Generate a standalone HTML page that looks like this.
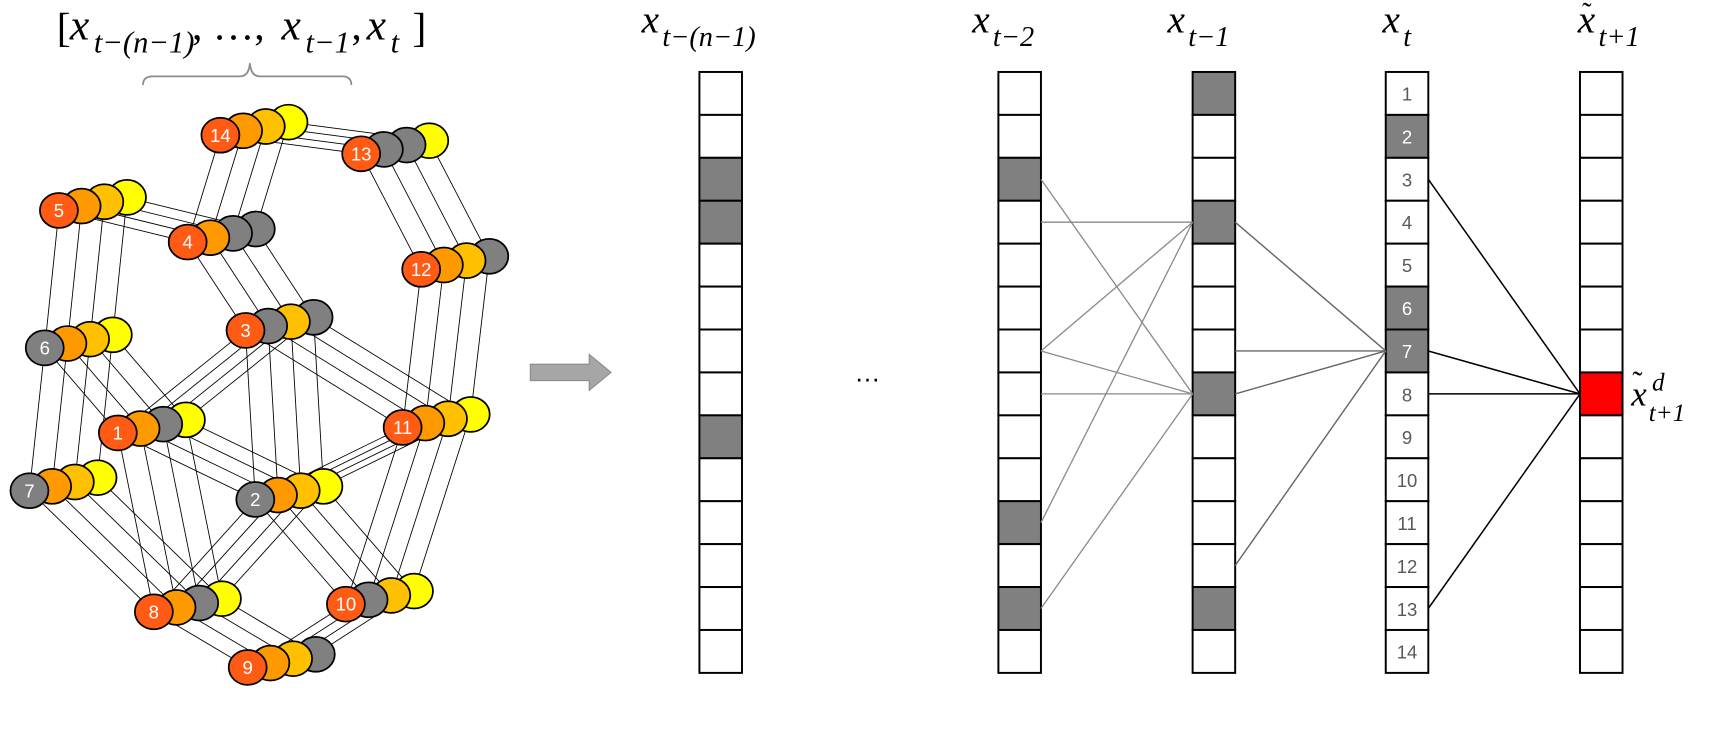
<!DOCTYPE html>
<html><head><meta charset="utf-8"><style>
html,body{margin:0;padding:0;background:#fff;}
svg{display:block;}
.m{font-family:"Liberation Serif",serif;font-style:italic;fill:#000;}
.n{font-family:"Liberation Sans",sans-serif;fill:#fff;font-size:17px;text-anchor:middle;}
.c{font-family:"Liberation Sans",sans-serif;fill:#595959;font-size:17px;text-anchor:middle;}
</style></head><body>
<svg id="s" width="1712" height="735" viewBox="0 0 1569 674" preserveAspectRatio="none" xmlns="http://www.w3.org/2000/svg">
<g id="edges" stroke="#000" stroke-width="0.8"></g>
<g id="nodes" stroke="#000" stroke-width="1.6"></g>
<g id="cols"></g>
<g id="conn" fill="none"></g>

<g class="n">
<text x="202" y="130">14</text>
<text x="331" y="147">13</text>
<text x="54" y="199">5</text>
<text x="172" y="228">4</text>
<text x="386" y="253">12</text>
<text x="225" y="309">3</text>
<text x="41" y="325">6</text>
<text x="108" y="403">1</text>
<text x="369" y="398">11</text>
<text x="27" y="456">7</text>
<text x="234" y="464">2</text>
<text x="141" y="567">8</text>
<text x="317" y="560">10</text>
<text x="227" y="618">9</text>
</g>

<text class="m" x="52" y="38" font-size="38" style="font-style:normal">[</text>
<text class="m" x="64" y="36" font-size="40">x</text>
<text class="m" x="86" y="48" font-size="28">t−(n−1)</text>
<text class="m" x="176" y="36" font-size="38" style="font-style:normal">, …, </text>
<text class="m" x="258" y="36" font-size="40">x</text>
<text class="m" x="280" y="48" font-size="28">t−1</text>
<text class="m" x="322" y="36" font-size="38" style="font-style:normal">,</text>
<text class="m" x="336" y="36" font-size="40">x</text>
<text class="m" x="358" y="48" font-size="28">t</text>
<text class="m" x="378" y="38" font-size="38" style="font-style:normal">]</text>
<path d="M131 78 Q131 70 140 70 L220 70 Q228 70 229 58 Q230 70 238 70 L314 70 Q322 70 322 78" fill="none" stroke="#8c8c8c" stroke-width="1.6"/>

<polygon points="486,334 540,334 540,325 560,341.5 540,358 540,349 486,349" fill="#a6a6a6" stroke="#8c8c8c" stroke-width="1"/>
<text x="783" y="350" font-family="Liberation Sans,sans-serif" font-size="24" fill="#000">…</text>

<text class="m" x="588" y="30" font-size="36">x</text><text class="m" x="607" y="42" font-size="26">t−(n−1)</text>
<text class="m" x="891" y="30" font-size="36">x</text><text class="m" x="910" y="42" font-size="26">t−2</text>
<text class="m" x="1070" y="30" font-size="36">x</text><text class="m" x="1089" y="42" font-size="26">t−1</text>
<text class="m" x="1267" y="30" font-size="36">x</text><text class="m" x="1286" y="42" font-size="26">t</text>
<text class="m" x="1446" y="30" font-size="36">x</text><text class="m" x="1465" y="42" font-size="26">t+1</text>
<text class="m" x="1450" y="20" font-size="26" style="font-style:normal">˜</text>
<text class="m" x="1495" y="372" font-size="32">x</text><text class="m" x="1496" y="360" font-size="28" style="font-style:normal">˜</text>
<text class="m" x="1514" y="358" font-size="23">d</text><text class="m" x="1511" y="386" font-size="23">t+1</text>

<g class="c">
<text x="1289.5" y="92">1</text>
<text x="1289.5" y="131.5" fill="#fff">2</text>
<text x="1289.5" y="171">3</text>
<text x="1289.5" y="210">4</text>
<text x="1289.5" y="249.5">5</text>
<text x="1289.5" y="289" fill="#fff">6</text>
<text x="1289.5" y="328.5" fill="#fff">7</text>
<text x="1289.5" y="368">8</text>
<text x="1289.5" y="407">9</text>
<text x="1289.5" y="446.5">10</text>
<text x="1289.5" y="486">11</text>
<text x="1289.5" y="525.5">12</text>
<text x="1289.5" y="565">13</text>
<text x="1289.5" y="604">14</text>
</g>
</svg>
<script>
(function(){
var NS="http://www.w3.org/2000/svg";
function el(p,t,a){var e=document.createElementNS(NS,t);for(var k in a)e.setAttribute(k,a[k]);p.appendChild(e);return e;}
var R="#FF5B15",O="#FF9900",G="#FFC000",Y="#FFFF00",K="#808080";
var N={14:[202,124,[R,O,G,Y]],13:[331,141,[R,K,K,Y]],5:[54,193,[R,O,G,Y]],4:[172,222,[R,O,K,K]],
12:[386,247,[R,O,G,K]],3:[225,303,[R,K,G,K]],6:[41,319,[K,O,G,Y]],1:[108,397,[R,O,K,Y]],
11:[369,392,[R,O,G,Y]],7:[27,450,[K,O,G,Y]],2:[234,458,[K,O,G,Y]],8:[141,561,[R,O,K,Y]],
10:[317,554,[R,K,G,Y]],9:[227,612,[R,O,G,K]]};
var E=[[6,7],[6,1],[1,8],[1,2],[1,3],[7,8],[3,2],[3,11],[2,11],[2,8],[2,10],[11,10],[8,9],[9,10],[11,12],[12,13],[13,14],[14,4],[4,5],[5,6],[4,3]];
var eg=document.getElementById("edges"),ng=document.getElementById("nodes");
var dx=20.8,dy=-4;
E.forEach(function(e){var a=N[e[0]],b=N[e[1]];for(var i=0;i<4;i++)el(eg,"line",{x1:a[0]+i*dx,y1:a[1]+i*dy,x2:b[0]+i*dx,y2:b[1]+i*dy});});
for(var k in N){var n=N[k];for(var i=3;i>=0;i--)el(ng,"ellipse",{cx:n[0]+i*dx,cy:n[1]+i*dy,rx:17.4,ry:16,fill:n[2][i]});}
var cg=document.getElementById("cols");
var X=[641,915,1093,1270,1448],top=66,h=39.36,w=39;
var gray=[[3,4,9],[3,11,13],[1,4,8,13],[2,6,7],[]];
X.forEach(function(x,ci){for(var j=0;j<14;j++){var f="#fff";if(gray[ci].indexOf(j+1)>=0)f="#808080";if(ci==4&&j==7)f="#FF0000";
el(cg,"rect",{x:x,y:top+j*h,width:w,height:h,fill:f,stroke:"#000","stroke-width":1.8});}});
var cy=function(j){return top+(j-0.5)*h;};
var cn=document.getElementById("conn");
function L(x1,j1,x2,j2,c,sw){el(cn,"line",{x1:x1,y1:cy(j1),x2:x2,y2:cy(j2),stroke:c,"stroke-width":sw});}
var a=954,b=1093,gc="#8a8a8a";
[[3,8],[4,4],[7,4],[7,8],[8,8],[11,4],[13,8]].forEach(function(p){L(a,p[0],b,p[1],gc,1.2);});
[[4,7],[7,7],[8,7],[12,7]].forEach(function(p){L(1132,p[0],1270,p[1],"#666",1.3);});
[[3,8],[7,8],[8,8],[13,8]].forEach(function(p){L(1309,p[0],1448,p[1],"#000",1.4);});
})();
</script>
</body></html>
